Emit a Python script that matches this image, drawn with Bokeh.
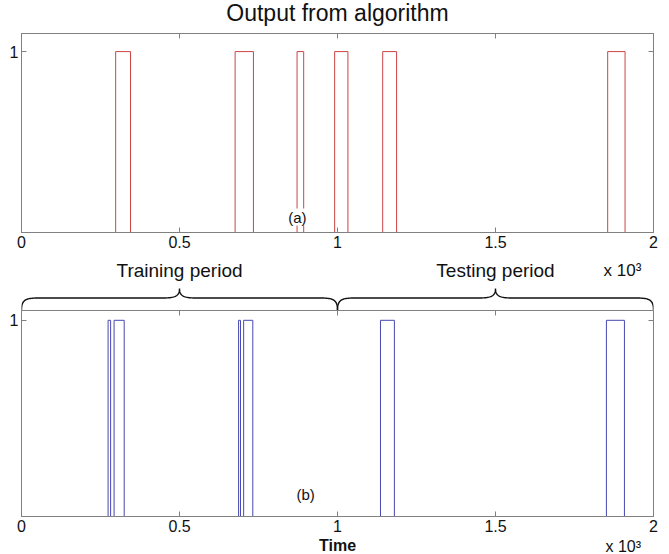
import numpy as np
from bokeh.plotting import figure
from bokeh.models import Range1d, LinearAxis, FixedTicker, Label, CustomLabelingPolicy
from bokeh.layouts import column
from bokeh.embed import file_html
from bokeh.resources import INLINE
from bokeh.core.properties import value

# ---------------- data ----------------
top_starts = [298, 676, 872, 991, 1143, 1855]
top_ends = [345, 734, 893, 1033, 1187, 1910]
bot_starts = [274, 293, 687, 703, 1136, 1851]
bot_ends = [282, 325, 693, 732, 1180, 1908]
x_ticks = [0, 500, 1000, 1500, 2000]
x_tick_labels = ["0", "0.5", "1", "1.5", "2"]
y_ticks = [1]
y_tick_labels = ["1"]
period_names = ["Training period", "Testing period"]
period_starts = [0, 1000]
period_ends = [1000, 2000]
x_min, x_max = 0, 2000
top_ymax, bot_ymax = 1.1, 1.05
title_text = "Output from algorithm"
xlabel_text = "Time"
multiplier_text = "x 10³"

# ---------------- layout constants ----------------
W = 669
BL, BR = 21, 16
FONT = "Liberation Sans"
GRAY = "#808080"
RED = "#cc4444"
BLUE = "#4848b0"
TXT = "#111111"


def band(height):
    f = figure(width=W, height=height, output_backend="svg", toolbar_location=None,
               x_range=Range1d(x_min, x_max), y_range=Range1d(0, height),
               min_border_left=BL, min_border_right=BR, min_border_top=0, min_border_bottom=0)
    f.axis.visible = False
    f.grid.visible = False
    f.outline_line_color = None
    return f


def step_xy(starts, ends):
    xs, ys = [x_min], [0]
    for s, e in zip(starts, ends):
        xs += [s, s, e, e]
        ys += [0, 1, 1, 0]
    xs.append(x_max)
    ys.append(0)
    return xs, ys


def mirror_axis(ticks):
    return LinearAxis(ticker=FixedTicker(ticks=ticks), major_label_text_font_size="0px",
                      major_label_policy=CustomLabelingPolicy(code="return new Set()"),
                      major_label_standoff=0, major_tick_in=5, major_tick_out=0,
                      major_tick_line_color=GRAY, minor_tick_line_color=None,
                      axis_line_color=None)


def style_axes(p):
    p.xgrid.visible = False
    p.ygrid.visible = False
    p.outline_line_color = GRAY
    p.outline_line_width = 1
    for ax in p.xaxis:
        ax.ticker = FixedTicker(ticks=x_ticks)
        ax.major_label_overrides = dict(zip(x_ticks, x_tick_labels))
    for ax in p.yaxis:
        ax.ticker = FixedTicker(ticks=y_ticks)
        ax.major_label_overrides = dict(zip(y_ticks, y_tick_labels))
    for ax in p.axis:
        ax.axis_line_color = GRAY
        ax.major_tick_line_color = GRAY
        ax.major_tick_in = 5
        ax.major_tick_out = 0
        ax.minor_tick_line_color = None
        ax.major_label_text_font = FONT
        ax.major_label_text_font_size = "16px"
        ax.major_label_text_color = TXT
        ax.major_label_standoff = 3
    p.add_layout(mirror_axis(x_ticks), "above")
    p.add_layout(mirror_axis(y_ticks), "right")


def make_plot(starts, ends, color, ymax, height, bbottom, tag, tag_x, tag_y):
    p = figure(width=W, height=height, x_range=Range1d(x_min, x_max), y_range=Range1d(0, ymax),
               output_backend="svg", toolbar_location=None,
               min_border_left=BL, min_border_right=BR, min_border_top=0, min_border_bottom=bbottom)
    style_axes(p)
    xs, ys = step_xy(starts, ends)
    p.line(xs, ys, line_color=color, line_width=1)
    p.add_layout(Label(x=tag_x, y=tag_y, text=tag, text_align="center", text_baseline="middle",
                       text_font=FONT, text_font_size="15px", text_color=TXT,
                       background_fill_color="white"))
    return p


# ---------------- header: title ----------------
HEAD_H = 33
head = band(HEAD_H)
head.text(x=[(x_min + x_max) / 2], y=[HEAD_H - 12], text=[title_text], text_align="center",
          text_baseline="middle", text_font=value(FONT), text_font_size="23px", text_color=TXT)

top = make_plot(top_starts, top_ends, RED, top_ymax, 223, 24, "(a)", 873, 0.085)

# ---------------- middle band: braces and period labels ----------------
MID_H = 54
mid = band(MID_H)
PPU = (W - BL - BR) / (x_max - x_min)


def bez(p0, p1, p2, p3, n=24):
    t = np.linspace(0, 1, n)[:, None]
    pts = ((1 - t) ** 3) * np.array(p0) + 3 * ((1 - t) ** 2) * t * np.array(p1) \
        + 3 * (1 - t) * (t ** 2) * np.array(p2) + (t ** 3) * np.array(p3)
    return pts


def brace(xa, xb, y_end=0.5, y_bar=12.5, y_tip=22.0, corner_px=17):
    c = corner_px / PPU
    xm = (xa + xb) / 2
    segs = [
        bez((xa, y_end), (xa, y_end + (y_bar - y_end) * 0.85), (xa + c * 0.25, y_bar), (xa + c, y_bar)),
        bez((xm - c, y_bar), (xm - c * 0.25, y_bar), (xm, y_bar + (y_tip - y_bar) * 0.2), (xm, y_tip)),
        bez((xm, y_tip), (xm, y_bar + (y_tip - y_bar) * 0.2), (xm + c * 0.25, y_bar), (xm + c, y_bar)),
        bez((xb - c, y_bar), (xb - c * 0.25, y_bar), (xb, y_end + (y_bar - y_end) * 0.85), (xb, y_end)),
    ]
    pts = np.vstack(segs)
    return pts[:, 0], pts[:, 1]


for name, s, e in zip(period_names, period_starts, period_ends):
    bx, by = brace(s, e)
    mid.line(bx, by, line_color=TXT, line_width=1.4)
    mid.text(x=[(s + e) / 2], y=[40], text=[name], text_align="center", text_baseline="middle",
             text_font=value(FONT), text_font_size="19px", text_color=TXT)

mid.text(x=[1842], y=[40], text=[multiplier_text], text_align="left", text_baseline="middle",
         text_font=value(FONT), text_font_size="17px", text_color=TXT)

bot = make_plot(bot_starts, bot_ends, BLUE, bot_ymax, 228, 22, "(b)", 899, 0.11)

# ---------------- footer: axis title and multiplier ----------------
FOOT_H = 16
foot = band(FOOT_H)
foot.text(x=[(x_min + x_max) / 2], y=[9], text=[xlabel_text], text_align="center", text_baseline="middle",
          text_font=value(FONT), text_font_size="16px", text_font_style="bold", text_color=TXT)
foot.text(x=[1848], y=[8], text=[multiplier_text], text_align="left", text_baseline="middle",
          text_font=value(FONT), text_font_size="16px", text_color=TXT)

layout = column(head, top, mid, bot, foot, spacing=0)
open("out.html", "w").write(file_html(layout, INLINE))
